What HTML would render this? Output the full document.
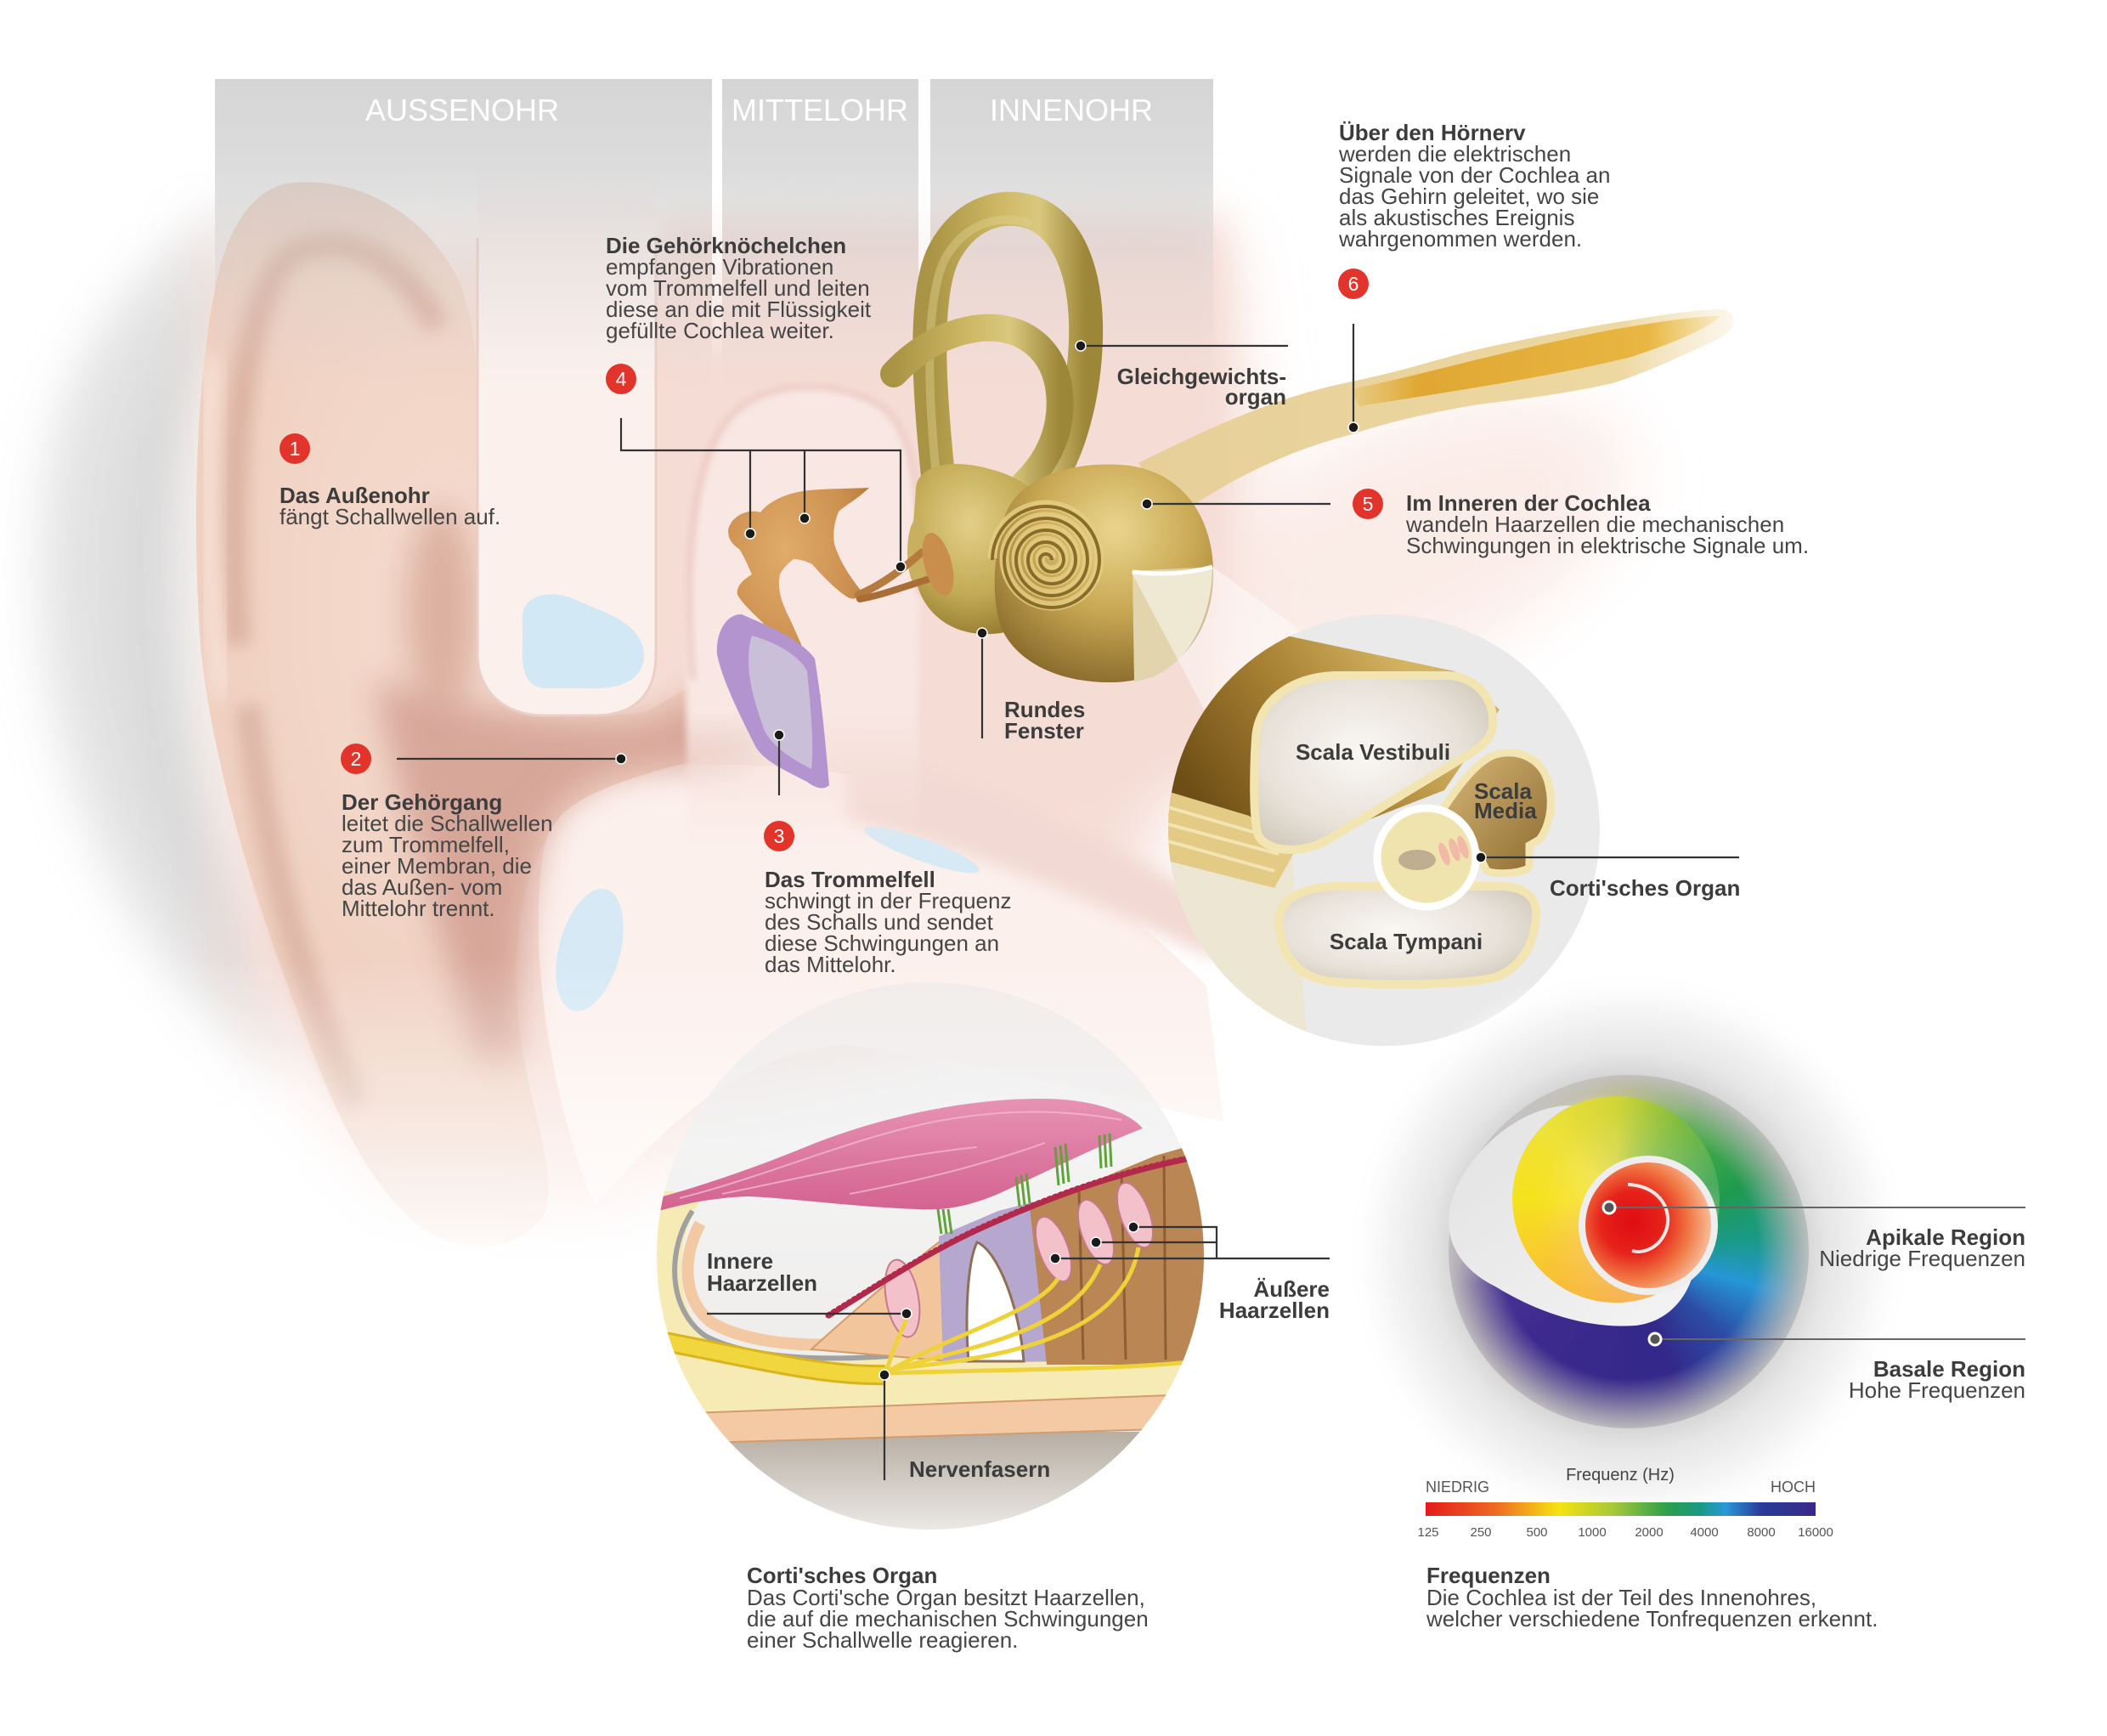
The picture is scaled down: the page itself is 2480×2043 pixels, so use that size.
<!DOCTYPE html>
<html><head><meta charset="utf-8">
<style>
html,body{margin:0;padding:0;background:#fff;}
#wrap{position:relative;width:2480px;height:2043px;overflow:hidden;background:#fff;}
svg{position:absolute;left:0;top:0;}
.rb{position:absolute;border-radius:50%;}
text{font-family:"Liberation Sans",Arial,sans-serif;}
</style></head><body><div id="wrap">
<svg width="2480" height="2043" viewBox="0 0 2480 2043">
<defs>
<filter id="b4" x="-30%" y="-30%" width="160%" height="160%"><feGaussianBlur stdDeviation="4"/></filter>
<filter id="b10" x="-30%" y="-30%" width="160%" height="160%"><feGaussianBlur stdDeviation="10"/></filter>
<filter id="b20" x="-40%" y="-40%" width="180%" height="180%"><feGaussianBlur stdDeviation="20"/></filter>
<filter id="b30" x="-40%" y="-40%" width="180%" height="180%"><feGaussianBlur stdDeviation="30"/></filter>
<filter id="b40" x="-40%" y="-40%" width="180%" height="180%"><feGaussianBlur stdDeviation="40"/></filter>
<linearGradient id="gBar" gradientUnits="userSpaceOnUse" x1="0" y1="93" x2="0" y2="460">
<stop offset="0" stop-color="#c6c6c6" stop-opacity=".74"/><stop offset="0.3" stop-color="#c8c8c8" stop-opacity=".62"/><stop offset="0.62" stop-color="#cfcfcf" stop-opacity=".3"/><stop offset="1" stop-color="#d8d8d8" stop-opacity="0"/></linearGradient>
<linearGradient id="gGap" gradientUnits="userSpaceOnUse" x1="0" y1="93" x2="0" y2="430">
<stop offset="0" stop-color="#fff" stop-opacity="1"/><stop offset="0.6" stop-color="#fff" stop-opacity=".8"/><stop offset="1" stop-color="#fff" stop-opacity="0"/></linearGradient>
<radialGradient id="gPinna" cx="0.45" cy="0.4" r="0.7"><stop offset="0" stop-color="#f5dccf"/><stop offset="0.7" stop-color="#efcfbf"/><stop offset="1" stop-color="#e9c6b6"/></radialGradient>
<linearGradient id="gFadeL" gradientUnits="userSpaceOnUse" x1="0" y1="1130" x2="0" y2="1500"><stop offset="0" stop-color="#fff" stop-opacity="0"/><stop offset="1" stop-color="#fff" stop-opacity="1"/></linearGradient>
<linearGradient id="gArch" x1="0" y1="0" x2="0" y2="1"><stop offset="0" stop-color="#f8e7e3"/><stop offset="0.7" stop-color="#f8e7e3"/><stop offset="1" stop-color="#f6dfd9" stop-opacity="0"/></linearGradient>
<linearGradient id="gCol" x1="0" y1="0" x2="0" y2="1"><stop offset="0" stop-color="#fbf0ec" stop-opacity="0"/><stop offset="0.12" stop-color="#fbf0ec"/><stop offset="1" stop-color="#fbf0ec"/></linearGradient>
<linearGradient id="gCanal" x1="0" y1="0" x2="1" y2="0"><stop offset="0" stop-color="#a99445"/><stop offset="0.45" stop-color="#cdb865"/><stop offset="0.7" stop-color="#d9c87e"/><stop offset="1" stop-color="#9c8638"/></linearGradient>
<radialGradient id="gGoldR" cx="0.4" cy="0.35" r="0.7"><stop offset="0" stop-color="#e2cf88"/><stop offset="0.6" stop-color="#c3aa55"/><stop offset="1" stop-color="#93792f"/></radialGradient>
<radialGradient id="gCoch" cx="0.55" cy="0.3" r="0.75"><stop offset="0" stop-color="#ead58e"/><stop offset="0.5" stop-color="#c9a853"/><stop offset="1" stop-color="#85672a"/></radialGradient>
<linearGradient id="gNerve" gradientUnits="userSpaceOnUse" x1="1340" y1="0" x2="2050" y2="0"><stop offset="0" stop-color="#e6cf98"/><stop offset="0.8" stop-color="#eed8a2"/><stop offset="1" stop-color="#f6e8c8" stop-opacity="0.3"/></linearGradient>
<linearGradient id="gStripe" gradientUnits="userSpaceOnUse" x1="1580" y1="0" x2="2030" y2="0"><stop offset="0" stop-color="#e2ac33" stop-opacity="0.1"/><stop offset="0.2" stop-color="#dfa52c" stop-opacity="0.95"/><stop offset="0.8" stop-color="#e8b53c" stop-opacity="0.95"/><stop offset="1" stop-color="#f0c860" stop-opacity="0.15"/></linearGradient>
<radialGradient id="gOss" cx="0.4" cy="0.3" r="0.8"><stop offset="0" stop-color="#e1ab6a"/><stop offset="0.6" stop-color="#cc9050"/><stop offset="1" stop-color="#a8702f"/></radialGradient>
<linearGradient id="gTube" gradientUnits="userSpaceOnUse" x1="1640" y1="760" x2="1400" y2="930"><stop offset="0" stop-color="#d3b463"/><stop offset="0.45" stop-color="#a98234"/><stop offset="1" stop-color="#6e4e16"/></linearGradient>
<radialGradient id="gPearl" cx="0.45" cy="0.45" r="0.7"><stop offset="0" stop-color="#faf8f4"/><stop offset="0.6" stop-color="#e7e1d8"/><stop offset="1" stop-color="#cdc3b4"/></radialGradient>
<linearGradient id="gMedia" x1="0" y1="0" x2="1" y2="1"><stop offset="0" stop-color="#d8b878"/><stop offset="1" stop-color="#8c6a30"/></linearGradient>
<linearGradient id="gCortiBg" gradientUnits="userSpaceOnUse" x1="0" y1="1156" x2="0" y2="1800"><stop offset="0" stop-color="#e9e9e9" stop-opacity=".5"/><stop offset="0.3" stop-color="#f3f3f3" stop-opacity=".95"/><stop offset="1" stop-color="#ebe8e5"/></linearGradient>
<linearGradient id="gCortiBot" gradientUnits="userSpaceOnUse" x1="0" y1="1690" x2="0" y2="1800"><stop offset="0" stop-color="#b9b0a5"/><stop offset="1" stop-color="#ebe8e5"/></linearGradient>
<linearGradient id="gMem" gradientUnits="userSpaceOnUse" x1="0" y1="1290" x2="0" y2="1430"><stop offset="0" stop-color="#e894b4"/><stop offset="1" stop-color="#d2608e"/></linearGradient>
<radialGradient id="gHalo" cx="0.5" cy="0.5" r="0.5"><stop offset="0" stop-color="#cccccc"/><stop offset="0.6" stop-color="#d2d2d2"/><stop offset="0.7" stop-color="#e6e6e6"/><stop offset="0.86" stop-color="#f6f6f6"/><stop offset="1" stop-color="#ffffff" stop-opacity="0"/></radialGradient>
<clipPath id="cScala"><circle cx="1629" cy="977" r="254"/></clipPath>
<clipPath id="cCorti"><circle cx="1095" cy="1478" r="322"/></clipPath>
</defs>

<!-- hair -->
<path d="M330,222 C250,250 120,330 70,500 C30,650 50,850 120,1000 C180,1130 260,1220 345,1275 L352,1200 C300,1080 250,920 236,760 C226,600 235,420 262,320 C280,262 305,235 330,222 Z" fill="#d6d6d6" filter="url(#b30)" opacity=".7"/>
<path d="M280,330 C200,420 160,560 165,720 C170,880 220,1020 300,1140" fill="none" stroke="#cdcdcd" stroke-width="50" filter="url(#b20)" opacity=".4"/>

<!-- pink washes -->
<path d="M250,290 L1440,270 L1470,560 L1420,860 L1330,1060 L1200,1200 L960,1300 L700,1460 L460,1420 L280,1150 Z" fill="#f6ddd5" filter="url(#b40)"/>
<ellipse cx="1640" cy="650" rx="300" ry="140" transform="rotate(-25 1640 650)" fill="#f9e4de" filter="url(#b40)" opacity=".7"/>
<path d="M780,260 L1440,260 L1440,900 L1100,980 L780,900 Z" fill="#f5dcd5" filter="url(#b20)"/>

<!-- lower bone -->
<path d="M640,1000 C655,935 720,905 800,900 C900,898 1000,905 1080,930 C1200,975 1320,1060 1420,1160 L1440,1320 C1300,1290 1150,1250 1000,1230 C900,1230 800,1300 700,1420 C650,1300 620,1120 640,1000 Z" fill="#fcf0ec"/>
<path d="M990,880 C1100,900 1250,960 1430,1060 L1430,1130 C1250,1040 1100,990 1000,965 Z" fill="#f3d9d3" filter="url(#b10)"/>
<ellipse cx="1085" cy="1000" rx="72" ry="13" transform="rotate(20 1085 1000)" fill="#d6e9f5"/>
<ellipse cx="694" cy="1118" rx="36" ry="74" transform="rotate(15 694 1118)" fill="#d6e9f5"/>

<!-- pinna -->
<path d="M337,216 C420,205 500,250 540,330 C556,370 562,420 562,460 L562,780 C600,830 680,850 760,838 L860,780 L880,880 C800,900 700,920 660,960 C620,1010 600,1100 610,1200 C620,1300 660,1380 640,1430 C610,1475 540,1480 490,1440 C430,1390 390,1300 350,1190 C300,1060 250,900 236,760 C226,620 230,450 255,330 C270,262 300,224 337,216 Z" fill="url(#gPinna)"/>
<path d="M280,760 C266,560 282,360 340,300 C400,268 470,298 515,385" fill="none" stroke="#dcb2a1" stroke-width="30" filter="url(#b10)"/>
<path d="M292,830 C310,990 350,1150 420,1300" fill="none" stroke="#ddb5a6" stroke-width="30" filter="url(#b10)"/>
<path d="M250,420 C240,560 245,700 262,820" fill="none" stroke="#f6e0d4" stroke-width="22" filter="url(#b10)"/>
<ellipse cx="520" cy="720" rx="42" ry="125" fill="#dcb0a0" filter="url(#b20)"/>
<path d="M440,800 C540,830 680,860 770,845 L860,800 L900,860 C880,900 840,905 800,902 C720,905 660,930 640,990 C620,1050 610,1150 612,1250 L560,1250 C520,1100 470,950 440,800 Z" fill="#d4a295" filter="url(#b20)" opacity=".9"/>

<!-- column -->
<path d="M562,200 L772,200 L772,770 C772,822 742,842 700,842 L640,842 C592,842 562,812 562,770 Z" fill="url(#gCol)"/>
<path d="M562,280 L562,770 C562,812 592,842 640,842 L700,842 C742,842 772,822 772,770 L772,280" fill="none" stroke="#ebcfc5" stroke-width="3"/>
<path d="M615,730 C612,700 648,692 678,706 C708,720 758,732 758,772 C757,803 725,812 690,810 L640,810 C620,808 613,790 615,760 Z" fill="#d3e8f5"/>

<!-- middle ear arch -->
<path d="M812,1000 C800,720 810,560 860,490 C900,445 990,445 1040,480 C1075,510 1085,580 1082,700 L1080,1000 Z" fill="url(#gArch)" filter="url(#b4)"/>
<path d="M815,800 C805,650 815,540 860,490 C900,445 990,445 1040,480 C1075,510 1085,580 1082,700" fill="none" stroke="#ecc7c0" stroke-width="6" filter="url(#b4)"/>

<!-- lower fade -->
<rect x="0" y="1130" width="1460" height="372" fill="url(#gFadeL)"/>
<rect x="0" y="1500" width="1460" height="320" fill="#fff"/>

<!-- header bars -->
<rect x="253" y="93" width="585" height="370" fill="url(#gBar)"/>
<rect x="850" y="93" width="231" height="370" fill="url(#gBar)"/>
<rect x="1095" y="93" width="333" height="370" fill="url(#gBar)"/>
<rect x="838" y="93" width="12" height="340" fill="url(#gGap)"/>
<rect x="1081" y="93" width="14" height="340" fill="url(#gGap)"/>
<text x="544" y="142" font-size="36" fill="#fff" text-anchor="middle">AUSSENOHR</text>
<text x="965" y="142" font-size="36" fill="#fff" text-anchor="middle">MITTELOHR</text>
<text x="1261" y="142" font-size="36" fill="#fff" text-anchor="middle">INNENOHR</text>

<!-- nerve -->
<path d="M1340,545 C1420,505 1500,468 1582,451 C1660,435 1700,420 1740,411 C1800,398 1850,388 1898,380 C1950,372 1995,364 2025,364 C2048,366 2045,390 2020,400 C1990,414 1940,438 1898,451 C1850,462 1790,470 1740,476 C1680,486 1630,498 1588,512 C1500,535 1430,575 1380,612 Z" fill="url(#gNerve)"/>
<path d="M1590,458 C1680,440 1780,410 1898,388 C1950,379 1995,372 2025,372 C2005,390 1965,405 1920,420 C1840,440 1740,456 1600,478 Z" fill="url(#gStripe)"/>

<!-- canals -->
<path d="M1108,600 C1098,500 1082,360 1110,300 C1135,250 1180,238 1215,250 C1262,268 1280,330 1278,400 C1276,460 1262,520 1235,565" fill="none" stroke="url(#gCanal)" stroke-width="40" stroke-linecap="round"/>
<path d="M1102,560 C1094,480 1086,360 1112,305 C1136,262 1176,252 1210,262" fill="none" stroke="#e0d08e" stroke-width="10" stroke-linecap="round" opacity=".45"/>
<path d="M1052,440 C1080,410 1115,390 1155,386 C1205,382 1242,412 1247,462 C1252,512 1228,548 1205,570" fill="none" stroke="url(#gCanal)" stroke-width="32" stroke-linecap="round"/>
<path d="M1078,575 C1080,545 1125,540 1165,552 C1205,562 1235,585 1242,625 C1250,685 1222,735 1178,745 C1128,752 1092,728 1080,690 C1070,650 1076,610 1078,575 Z" fill="url(#gGoldR)"/>
<ellipse cx="1080" cy="650" rx="12" ry="40" fill="#c9b060"/>

<!-- cochlea -->
<path d="M1182,610 C1195,565 1255,543 1320,547 C1392,552 1430,610 1428,680 C1426,752 1380,802 1310,803 C1250,804 1200,782 1180,742 C1165,705 1170,650 1182,610 Z" fill="url(#gCoch)"/>
<path d="M1333,673 C1365,677 1400,675 1427,667 C1426,745 1385,796 1335,802 Z" fill="#e2d5ae"/>
<path d="M1333,673 C1365,677 1400,675 1427,667" fill="none" stroke="#fff" stroke-width="5"/>
<path d="M1238,657 A7,7 0 0 0 1224,657 A14,14 0 0 0 1252,657 A21,21 0 0 0 1210,657 A28,28 0 0 0 1266,657 A35,35 0 0 0 1196,657 A42,42 0 0 0 1280,657 A49,49 0 0 0 1182,657 A56,56 0 0 0 1294,657 A63,63 0 0 0 1168,657" fill="none" stroke="#e4cc82" stroke-width="11" opacity=".85"/>
<path d="M1238,659 A7,7 0 0 0 1224,659 A14,14 0 0 0 1252,659 A21,21 0 0 0 1210,659 A28,28 0 0 0 1266,659 A35,35 0 0 0 1196,659 A42,42 0 0 0 1280,659 A49,49 0 0 0 1182,659 A56,56 0 0 0 1294,659 A63,63 0 0 0 1168,659" fill="none" stroke="#8a6c2a" stroke-width="4"/>

<!-- ossicles -->
<path d="M862,613 C872,602 885,600 895,603 C905,590 925,580 952,577 C975,575 1000,575 1023,574 C1012,585 995,595 987,602 C982,615 980,628 982,640 C988,660 1000,678 1014,696 C1013,703 1006,707 998,703 C985,695 968,678 956,664 C948,660 940,658 934,658 C928,663 922,668 918,676 C915,690 918,705 928,725 C940,750 955,785 966,820 C960,823 955,818 952,812 C942,785 925,760 905,740 C890,725 875,712 868,700 C866,690 875,682 885,676 C880,665 876,655 870,646 C860,640 855,630 858,620 Z" fill="url(#gOss)"/>
<path d="M1010,700 C1035,690 1060,672 1085,650" stroke="#b57a3e" stroke-width="9" fill="none" stroke-linecap="round"/>
<path d="M1012,705 C1040,700 1065,690 1092,682" stroke="#a86e35" stroke-width="8" fill="none" stroke-linecap="round"/>
<ellipse cx="1104" cy="664" rx="16" ry="38" transform="rotate(-15 1104 664)" fill="#c98d4c"/>

<!-- eardrum -->
<path d="M873,723 C900,735 940,750 959,775 C968,830 972,880 976,924 C970,930 960,928 950,920 C920,905 900,895 890,880 C870,840 850,800 844,770 C842,745 855,722 873,723 Z" fill="#b394cf"/>
<path d="M885,748 C910,755 940,770 950,790 C955,840 958,880 955,905 C935,895 910,880 900,860 C885,820 875,780 885,748 Z" fill="#c9bfd9"/>

<!-- beam -->
<polygon points="1331,672 1427,667 1888,1000 1628,1232" fill="#fff" opacity=".45"/>

<!-- scala circle -->
<circle cx="1629" cy="977" r="254" fill="#eaeaea"/>
<g clip-path="url(#cScala)">
<path d="M1370,960 L1520,1000 L1540,1240 L1370,1240 Z" fill="#ede6d2"/>
<path d="M1370,935 C1390,850 1440,780 1500,745 L1712,790 L1765,835 L1700,930 L1520,1000 L1370,960 Z" fill="url(#gTube)"/>
<path d="M1370,930 L1470,960 L1525,1000 L1500,1045 L1370,1012 Z" fill="#e3cb85"/>
<path d="M1375,950 L1495,985 M1375,970 L1505,1005 M1375,990 L1500,1025" stroke="#f3e4b4" stroke-width="4"/>
<path d="M1478,870 C1480,825 1520,797 1570,795 L1705,795 C1740,797 1760,825 1757,855 C1755,872 1740,882 1720,893 L1560,990 C1530,1005 1495,1003 1482,985 C1474,970 1476,900 1478,870 Z" fill="url(#gPearl)" stroke="#f2e5b2" stroke-width="10"/>
<path d="M1700,950 C1720,920 1740,895 1760,888 C1790,880 1815,895 1822,920 C1830,950 1822,975 1812,988 L1800,995 L1800,1020 C1795,1028 1760,1030 1750,1025 L1740,1005 C1725,990 1700,975 1700,950 Z" fill="url(#gMedia)" stroke="#f2e5b2" stroke-width="9"/>
<path d="M1505,1080 C1510,1055 1535,1045 1570,1043 L1770,1043 C1800,1045 1810,1060 1808,1080 C1806,1110 1790,1140 1760,1150 C1720,1160 1620,1160 1565,1155 C1525,1150 1505,1120 1505,1080 Z" fill="url(#gPearl)" stroke="#f2e5b2" stroke-width="10"/>
<circle cx="1679" cy="1009" r="58" fill="#efe3ae" stroke="#fff" stroke-width="9"/>
<ellipse cx="1668" cy="1012" rx="22" ry="12" fill="#bfae90"/>
<ellipse cx="1700" cy="1005" rx="5" ry="14" transform="rotate(-20 1700 1005)" fill="#f2b8a8"/>
<ellipse cx="1712" cy="1000" rx="5" ry="14" transform="rotate(-20 1712 1000)" fill="#f2b8a8"/>
<ellipse cx="1722" cy="997" rx="5" ry="14" transform="rotate(-20 1722 997)" fill="#f2b8a8"/>
</g>

<!-- corti circle -->
<circle cx="1095" cy="1478" r="322" fill="url(#gCortiBg)"/>
<g clip-path="url(#cCorti)">
<rect x="760" y="1685" width="680" height="130" fill="url(#gCortiBot)"/>
<path d="M760,1400 L830,1405 C795,1450 790,1530 830,1572 C880,1598 960,1602 1046,1596 L1430,1575 L1430,1655 L760,1690 Z" fill="#f6ebb5"/>
<path d="M760,1665 L1430,1640 L1430,1680 L760,1700 Z" fill="#f3caa4" stroke="#d39b6e" stroke-width="2"/>
<path d="M815,1425 C785,1470 785,1540 830,1572 C880,1598 960,1602 1046,1596" fill="none" stroke="#a0a0a0" stroke-width="6"/>
<path d="M824,1440 C802,1480 803,1533 840,1558 C885,1582 955,1586 1010,1580" fill="none" stroke="#f2c9a2" stroke-width="14"/>
<path d="M955,1588 C985,1560 1015,1535 1050,1505 L1110,1458 L1120,1602 Z" fill="#f2c59c" stroke="#d39a6c" stroke-width="2"/>
<path d="M1105,1455 L1175,1425 L1235,1410 L1258,1602 L1110,1604 Z" fill="#b5a7ce"/>
<path d="M1150,1462 C1175,1472 1200,1540 1205,1602 L1140,1602 C1135,1540 1140,1482 1150,1462 Z" fill="#fff" stroke="#8f6f55" stroke-width="3"/>
<path d="M1212,1420 L1300,1385 L1360,1360 L1430,1340 L1430,1606 L1232,1606 Z" fill="#b98654"/>
<path d="M1270,1400 L1275,1600 M1320,1380 L1325,1600 M1370,1360 L1372,1600" stroke="#8e5f35" stroke-width="3"/>
<ellipse cx="1062" cy="1528" rx="19" ry="46" transform="rotate(-10 1062 1528)" fill="#f3c1c9" stroke="#c57a8a" stroke-width="2"/>
<ellipse cx="1240" cy="1470" rx="17" ry="40" transform="rotate(-20 1240 1470)" fill="#f3c1c9" stroke="#c57a8a" stroke-width="2"/>
<ellipse cx="1290" cy="1450" rx="17" ry="40" transform="rotate(-20 1290 1450)" fill="#f3c1c9" stroke="#c57a8a" stroke-width="2"/>
<ellipse cx="1336" cy="1430" rx="17" ry="40" transform="rotate(-20 1336 1430)" fill="#f3c1c9" stroke="#c57a8a" stroke-width="2"/>
<path d="M975,1550 C1040,1510 1100,1470 1170,1440 C1260,1400 1340,1375 1425,1360" fill="none" stroke="#b3294c" stroke-width="4"/>
<path d="M975,1548 C1040,1508 1100,1468 1170,1438 C1260,1398 1340,1373 1425,1358" fill="none" stroke="#b3294c" stroke-width="7" stroke-dasharray="2 5" stroke-linecap="round"/>
<path d="M760,1575 C860,1592 960,1620 1042,1618" fill="none" stroke="#d9b320" stroke-width="24"/>
<path d="M760,1575 C860,1592 960,1620 1042,1618" fill="none" stroke="#f2d63e" stroke-width="18"/>
<g fill="none" stroke="#efd23a" stroke-width="5">
<path d="M1042,1618 C1050,1590 1060,1570 1067,1552"/>
<path d="M1042,1616 C1120,1570 1220,1545 1245,1505"/>
<path d="M1042,1614 C1140,1585 1260,1570 1295,1488"/>
<path d="M1042,1612 C1150,1600 1320,1585 1340,1468"/>
<path d="M1045,1616 C1150,1612 1350,1612 1420,1600"/>
</g>
<path d="M769,1411 C830,1395 900,1370 960,1345 C1050,1310 1150,1292 1230,1293 C1290,1294 1330,1310 1345,1328 C1300,1345 1240,1375 1175,1405 C1140,1420 1110,1425 1080,1423 C1000,1420 930,1410 880,1408 C830,1410 790,1420 760,1430 Z" fill="url(#gMem)"/>
<path d="M800,1410 C900,1385 1000,1340 1100,1320 C1180,1305 1250,1305 1320,1318 M850,1405 C950,1385 1050,1360 1150,1350 M1000,1405 C1080,1390 1160,1370 1230,1345" fill="none" stroke="#f3b6cd" stroke-width="2" opacity=".8"/>
<g stroke="#5fa33a" stroke-width="3">
<path d="M1104,1423 L1108,1452 M1110,1423 L1114,1452 M1116,1423 L1120,1452"/>
<path d="M1196,1385 L1200,1420 M1202,1383 L1206,1418 M1208,1381 L1212,1416"/>
<path d="M1242,1350 L1246,1395 M1248,1348 L1252,1393 M1254,1346 L1258,1391"/>
<path d="M1294,1336 L1296,1375 M1300,1335 L1302,1374 M1306,1334 L1308,1373"/>
</g>
</g>

<!-- rainbow halo -->
<circle cx="1917" cy="1473" r="335" fill="url(#gHalo)"/>
</svg>

<div class="rb" style="left:1705px;top:1265px;width:424px;height:416px;background:radial-gradient(closest-side, rgba(185,182,182,0) 72%, rgba(185,182,182,.75) 92%, rgba(195,192,192,.95) 100%), conic-gradient(from 0deg, #c0cc4a 0deg, #4fae45 25deg, #1f9a50 60deg, #1a9a8a 85deg, #2696d6 105deg, #2c4ea6 130deg, #33288a 160deg, #3e2a8e 230deg, #4a3596 258deg, #d8d8d8 280deg, #e6e6e6 320deg, #dede90 345deg, #c0cc4a 360deg);"></div>
<div class="rb" style="left:1780px;top:1290px;width:244px;height:244px;background:radial-gradient(circle at 60% 55%, rgba(255,240,205,.45) 0%, rgba(255,240,205,0) 60%), conic-gradient(from 0deg, #d2d53a 0deg, #7dbb3e 40deg, #3aa555 80deg, #5cb272 110deg, #f3b460 150deg, #f7b24a 180deg, #f8c532 225deg, #f6e21c 270deg, #efe238 315deg, #d2d53a 360deg);"></div>

<svg width="2480" height="2043" viewBox="0 0 2480 2043">
<defs>
<linearGradient id="gGapB" x1="0" y1="0" x2="1" y2="1"><stop offset="0" stop-color="#e2e2e2"/><stop offset="1" stop-color="#f4f4f4"/></linearGradient>
<radialGradient id="gRed" cx="0.38" cy="0.48" r="0.62"><stop offset="0" stop-color="#df0c12"/><stop offset="0.38" stop-color="#e6221a"/><stop offset="0.7" stop-color="#f07a45"/><stop offset="1" stop-color="#f8c6a6"/></radialGradient>
<linearGradient id="gBarC" x1="0" y1="0" x2="1" y2="0"><stop offset="0" stop-color="#e31b1b"/><stop offset="0.18" stop-color="#ef6a22"/><stop offset="0.34" stop-color="#f6e310"/><stop offset="0.48" stop-color="#a8c83a"/><stop offset="0.62" stop-color="#2aa04a"/><stop offset="0.7" stop-color="#1a9a80"/><stop offset="0.77" stop-color="#2a98d8"/><stop offset="0.86" stop-color="#2a3a98"/><stop offset="1" stop-color="#3a2a88"/></linearGradient>
</defs>

<!-- rainbow overlays -->
<path d="M1850,1301 C1800,1300 1742,1340 1714,1398 C1692,1448 1712,1490 1760,1514 C1812,1546 1870,1564 1925,1560 C1962,1556 1988,1528 1995,1490 A122,122 0 0 1 1780,1412 A122,122 0 0 1 1850,1301 Z" fill="url(#gGapB)"/>
<circle cx="1940" cy="1442" r="78" fill="url(#gRed)" stroke="#eeeeee" stroke-width="8"/>
<path d="M1916,1394 C1950,1395 1968,1420 1962,1445 C1955,1468 1935,1476 1921,1472" fill="none" stroke="#f6e6e6" stroke-width="4"/>
<rect x="1678" y="1768" width="459" height="16" fill="url(#gBarC)"/>

<!-- leader lines -->
<g stroke="#333" stroke-width="2.2" fill="none">
<path d="M731,492 L731,530 L1060,530 L1060,667 M883,530 L883,628 M947,530 L947,610"/>
<path d="M467,893 L731,893"/>
<path d="M917,865 L917,936"/>
<path d="M1156,745 L1156,869"/>
<path d="M1272,407 L1516,407"/>
<path d="M1350,593 L1566,593"/>
<path d="M1593,381 L1593,503"/>
<path d="M1743,1009 L2047,1009"/>
<path d="M832,1546 L1067,1546"/>
<path d="M1334,1444 L1432,1444 L1432,1481 M1290,1462 L1432,1462 M1242,1481 L1565,1481"/>
<path d="M1041,1618 L1041,1742"/>
</g>
<g stroke="#666" stroke-width="2" fill="none">
<path d="M1894,1421 L2384,1421"/>
<path d="M1948,1576 L2384,1576"/>
</g>
<g fill="#1a1a1a" stroke="#fff" stroke-width="1.5">
<circle cx="883" cy="628" r="6"/><circle cx="947" cy="610" r="6"/><circle cx="1060" cy="667" r="6"/>
<circle cx="731" cy="893" r="6"/><circle cx="917" cy="865" r="6"/><circle cx="1156" cy="745" r="6"/>
<circle cx="1272" cy="407" r="6"/><circle cx="1350" cy="593" r="6"/><circle cx="1593" cy="503" r="6"/>
<circle cx="1743" cy="1009" r="6"/><circle cx="1067" cy="1546" r="6"/><circle cx="1334" cy="1444" r="6"/>
<circle cx="1290" cy="1462" r="6"/><circle cx="1242" cy="1481" r="6"/><circle cx="1041" cy="1618" r="6"/>
</g>
<circle cx="1894" cy="1421" r="7" fill="#555" stroke="#fff" stroke-width="3"/>
<circle cx="1948" cy="1576" r="7" fill="#555" stroke="#fff" stroke-width="3"/>

<!-- numbered markers -->
<g fill="#e2342b">
<circle cx="347" cy="528" r="18"/><circle cx="419" cy="893" r="18"/><circle cx="917" cy="984" r="18"/>
<circle cx="731" cy="446" r="18"/><circle cx="1610" cy="593" r="18"/><circle cx="1593" cy="334" r="18"/>
</g>
<g fill="#fff" font-size="23" text-anchor="middle">
<text x="347" y="536">1</text><text x="419" y="901">2</text><text x="917" y="992">3</text>
<text x="731" y="454">4</text><text x="1610" y="601">5</text><text x="1593" y="342">6</text>
</g>

<!-- text blocks -->
<g font-size="26" fill="#454545">
<text x="329" y="592" font-weight="bold" fill="#3c3c3c">Das Außenohr</text>
<text x="329" y="617">fängt Schallwellen auf.</text>

<text x="402" y="953" font-weight="bold" fill="#3c3c3c">Der Gehörgang</text>
<text x="402" y="978">leitet die Schallwellen</text>
<text x="402" y="1003">zum Trommelfell,</text>
<text x="402" y="1028">einer Membran, die</text>
<text x="402" y="1053">das Außen- vom</text>
<text x="402" y="1078">Mittelohr trennt.</text>

<text x="713" y="298" font-weight="bold" fill="#3c3c3c">Die Gehörknöchelchen</text>
<text x="713" y="323">empfangen Vibrationen</text>
<text x="713" y="348">vom Trommelfell und leiten</text>
<text x="713" y="373">diese an die mit Flüssigkeit</text>
<text x="713" y="398">gefüllte Cochlea weiter.</text>

<text x="900" y="1044" font-weight="bold" fill="#3c3c3c">Das Trommelfell</text>
<text x="900" y="1069">schwingt in der Frequenz</text>
<text x="900" y="1094">des Schalls und sendet</text>
<text x="900" y="1119">diese Schwingungen an</text>
<text x="900" y="1144">das Mittelohr.</text>

<text x="1576" y="165" font-weight="bold" fill="#3c3c3c">Über den Hörnerv</text>
<text x="1576" y="190">werden die elektrischen</text>
<text x="1576" y="215">Signale von der Cochlea an</text>
<text x="1576" y="240">das Gehirn geleitet, wo sie</text>
<text x="1576" y="265">als akustisches Ereignis</text>
<text x="1576" y="290">wahrgenommen werden.</text>

<text x="1655" y="601" font-weight="bold" fill="#3c3c3c">Im Inneren der Cochlea</text>
<text x="1655" y="626">wandeln Haarzellen die mechanischen</text>
<text x="1655" y="651">Schwingungen in elektrische Signale um.</text>

<text x="879" y="1863" font-weight="bold" fill="#3c3c3c">Corti'sches Organ</text>
<text x="879" y="1889">Das Corti'sche Organ besitzt Haarzellen,</text>
<text x="879" y="1914">die auf die mechanischen Schwingungen</text>
<text x="879" y="1939">einer Schallwelle reagieren.</text>

<text x="1679" y="1863" font-weight="bold" fill="#3c3c3c">Frequenzen</text>
<text x="1679" y="1889">Die Cochlea ist der Teil des Innenohres,</text>
<text x="1679" y="1914">welcher verschiedene Tonfrequenzen erkennt.</text>

<text x="2384" y="1490" text-anchor="end">Niedrige Frequenzen</text>
<text x="2384" y="1645" text-anchor="end">Hohe Frequenzen</text>
</g>

<g font-size="26" font-weight="bold" fill="#3c3c3c">
<text x="1514" y="452" text-anchor="end">Gleichgewichts-</text>
<text x="1514" y="476" text-anchor="end">organ</text>
<text x="1182" y="844">Rundes</text>
<text x="1182" y="869">Fenster</text>
<text x="1616" y="894" text-anchor="middle">Scala Vestibuli</text>
<text x="1735" y="940">Scala</text>
<text x="1735" y="963">Media</text>
<text x="1655" y="1117" text-anchor="middle">Scala Tympani</text>
<text x="1824" y="1054">Corti'sches Organ</text>
<text x="832" y="1493">Innere</text>
<text x="832" y="1519">Haarzellen</text>
<text x="1565" y="1526" text-anchor="end">Äußere</text>
<text x="1565" y="1551" text-anchor="end">Haarzellen</text>
<text x="1070" y="1738">Nervenfasern</text>
<text x="2384" y="1465" text-anchor="end">Apikale Region</text>
<text x="2384" y="1620" text-anchor="end">Basale Region</text>
</g>

<g fill="#555">
<text x="1678" y="1756" font-size="18">NIEDRIG</text>
<text x="2137" y="1756" font-size="18" text-anchor="end">HOCH</text>
<text x="1907" y="1742" font-size="20" text-anchor="middle" fill="#444">Frequenz (Hz)</text>
<g font-size="15" text-anchor="middle">
<text x="1681" y="1808">125</text><text x="1743" y="1808">250</text><text x="1809" y="1808">500</text>
<text x="1874" y="1808">1000</text><text x="1941" y="1808">2000</text><text x="2006" y="1808">4000</text>
<text x="2073" y="1808">8000</text><text x="2137" y="1808">16000</text>
</g>
</g>
</svg>
</div></body></html>
